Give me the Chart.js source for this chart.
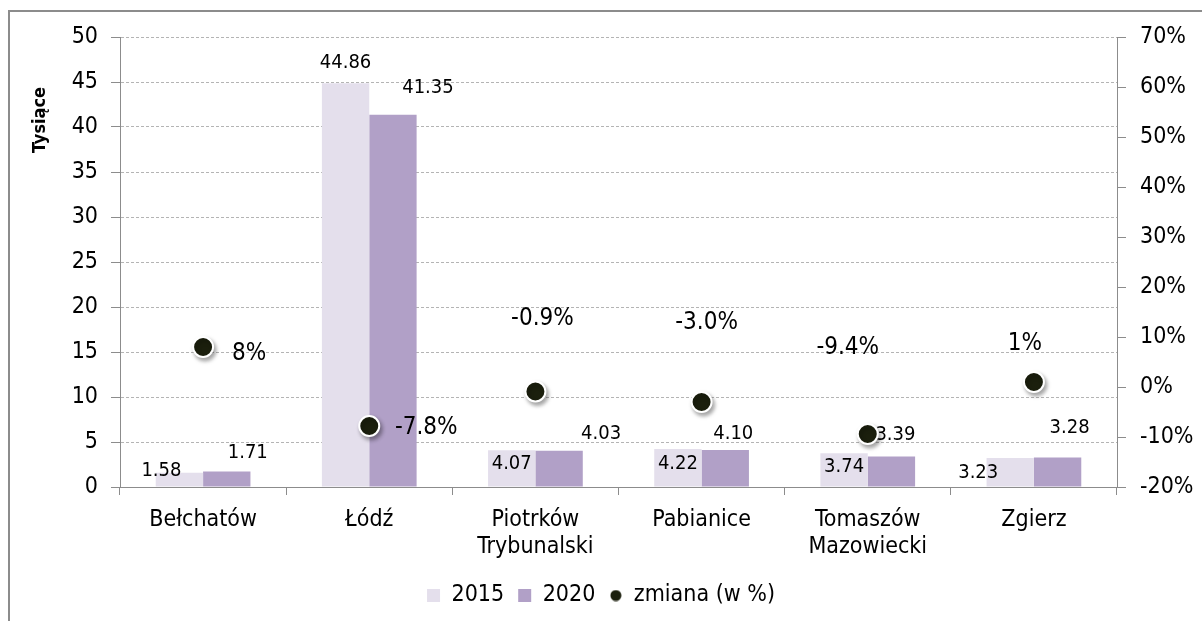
<!DOCTYPE html>
<html lang="pl">
<head>
<meta charset="utf-8">
<script src="https://cdn.jsdelivr.net/npm/chart.js@4.4.0/dist/chart.umd.min.js"></script>
<style>
  html, body { margin: 0; padding: 0; background: #fff; }
  #wrap { position: relative; width: 1202px; height: 621px; overflow: hidden; }
  #frame { position: absolute; left: 8px; top: 10px; width: 1300px; height: 700px;
           border-left: 2px solid #8c8c8c; border-top: 2px solid #8c8c8c; }
  canvas { position: absolute; left: 0; top: 0; }
</style>
</head>
<body>
<div id="wrap">
  <div id="frame"></div>
  <canvas id="chart" width="1202" height="621"></canvas>
</div>
<script>
const cities = ['Bełchatów', 'Łódź', ['Piotrków', 'Trybunalski'], 'Pabianice', ['Tomaszów', 'Mazowiecki'], 'Zgierz'];
const values2015 = [1.58, 44.86, 4.07, 4.22, 3.74, 3.23];
const values2020 = [1.71, 41.35, 4.03, 4.10, 3.39, 3.28];
const changePct = [8, -7.8, -0.9, -3.0, -9.4, 1];
const changeLabels = ['8%', '-7.8%', '-0.9%', '-3.0%', '-9.4%', '1%'];
const seriesNames = ['2015', '2020', 'zmiana (w %)'];
const axisTitle = 'Tysiące';

// where each value label sits, relative to its bar top / point (px)
const offsets2015 = [[-18, -2], [0, -20], [0, 13], [0, 15], [0, 13], [-32, 15]];
const offsets2020 = [[21, -19], [35, -27], [42, -17], [8, -16], [4, -22], [12, -30]];
const offsetsPct = [[46, 7], [57, 2], [7, -73], [5, -79], [-20, -86], [-9, -38]];

const FONT = '"DejaVu Sans Condensed", "DejaVu Sans", sans-serif';
const AXIS_GREY = '#8c8c8c';

Chart.defaults.font.family = FONT;
Chart.defaults.font.size = 23;
Chart.defaults.color = '#000';

// small dot for the legend entry
const legendDot = document.createElement('canvas');
legendDot.width = 12;
legendDot.height = 12;
(function () {
  const c = legendDot.getContext('2d');
  c.fillStyle = '#1b1f0d';
  c.beginPath();
  c.arc(6, 6, 5.5, 0, Math.PI * 2);
  c.fill();
})();

const labelPlugin = {
  id: 'valueLabels',
  beforeDatasetDraw(chart, args) {
    if (args.index === 2) {
      const ctx = chart.ctx;
      ctx.shadowColor = 'rgba(0,0,0,0.35)';
      ctx.shadowBlur = 4;
      ctx.shadowOffsetX = 2;
      ctx.shadowOffsetY = 3;
    }
  },
  afterDatasetDraw(chart, args) {
    const ctx = chart.ctx;
    if (args.index === 2) {
      ctx.shadowColor = 'transparent';
      ctx.shadowBlur = 0;
      ctx.shadowOffsetX = 0;
      ctx.shadowOffsetY = 0;
      return;
    }
    const offs = args.index === 0 ? offsets2015 : offsets2020;
    const vals = args.index === 0 ? values2015 : values2020;
    ctx.save();
    ctx.font = '20px ' + FONT;
    ctx.fillStyle = '#000';
    ctx.textAlign = 'center';
    ctx.textBaseline = 'middle';
    args.meta.data.forEach((bar, i) => {
      ctx.fillText(vals[i].toFixed(2), bar.x + offs[i][0], bar.y + offs[i][1]);
    });
    ctx.restore();
  },
  afterDatasetsDraw(chart) {
    const ctx = chart.ctx;
    ctx.save();
    ctx.font = '24px ' + FONT;
    ctx.fillStyle = '#000';
    ctx.textAlign = 'center';
    ctx.textBaseline = 'middle';
    chart.getDatasetMeta(2).data.forEach((pt, i) => {
      ctx.fillText(changeLabels[i], pt.x + offsetsPct[i][0], pt.y + offsetsPct[i][1]);
    });
    // axis title
    ctx.font = 'bold 18px ' + FONT;
    ctx.translate(40, chart.chartArea.top + 83);
    ctx.rotate(-Math.PI / 2);
    ctx.fillText(axisTitle, 0, 0);
    ctx.restore();
  }
};

new Chart(document.getElementById('chart'), {
  type: 'bar',
  data: {
    labels: cities,
    datasets: [
      {
        label: seriesNames[0],
        data: values2015,
        backgroundColor: '#e4dfec',
        pointStyle: 'rect',
        yAxisID: 'y',
        order: 1
      },
      {
        label: seriesNames[1],
        data: values2020,
        backgroundColor: '#b1a0c7',
        pointStyle: 'rect',
        yAxisID: 'y',
        order: 1
      },
      {
        type: 'line',
        label: seriesNames[2],
        data: changePct,
        showLine: false,
        yAxisID: 'y1',
        pointRadius: 10,
        pointHoverRadius: 10,
        pointBackgroundColor: '#1b1f0d',
        pointBorderColor: '#ffffff',
        pointBorderWidth: 2,
        backgroundColor: '#1b1f0d',
        borderColor: '#1b1f0d',
        order: 0
      }
    ]
  },
  options: {
    responsive: false,
    animation: false,
    layout: { padding: { top: 37, left: 0, right: 0, bottom: 4 } },
    datasets: {
      bar: { categoryPercentage: 0.57, barPercentage: 1 }
    },
    plugins: {
      tooltip: { enabled: false },
      legend: {
        position: 'bottom',
        labels: {
          usePointStyle: true,
          boxWidth: 13,
          boxHeight: 13,
          padding: 14,
          color: '#000',
          font: { size: 23 },
          sort: (a, b) => a.datasetIndex - b.datasetIndex,
          generateLabels(chart) {
            const items = Chart.defaults.plugins.legend.labels.generateLabels(chart);
            items.forEach(it => {
              if (it.datasetIndex === 2) it.pointStyle = legendDot;
              else it.pointStyle = 'rect';
              it.lineWidth = 0;
            });
            return items;
          }
        }
      }
    },
    scales: {
      x: {
        grid: { offset: true, drawOnChartArea: false, tickLength: 8, color: AXIS_GREY },
        border: { color: AXIS_GREY },
        ticks: { padding: 11, font: { size: 23 } },
        afterFit(scale) { scale.height = 83; }
      },
      y: {
        position: 'left',
        min: 0,
        max: 50,
        ticks: { stepSize: 5, padding: 13 },
        grid: { color: '#b4b4b4', tickColor: AXIS_GREY, tickLength: 9 },
        border: { color: AXIS_GREY, dash: [3, 2] },
        afterFit(scale) { scale.width = 120; }
      },
      y1: {
        position: 'right',
        min: -20,
        max: 70,
        ticks: { stepSize: 10, padding: 14, callback: v => v + '%' },
        grid: { drawOnChartArea: false, color: AXIS_GREY, tickLength: 9 },
        border: { color: AXIS_GREY },
        afterFit(scale) { scale.width = 85; }
      }
    }
  },
  plugins: [labelPlugin]
});
</script>
</body>
</html>
